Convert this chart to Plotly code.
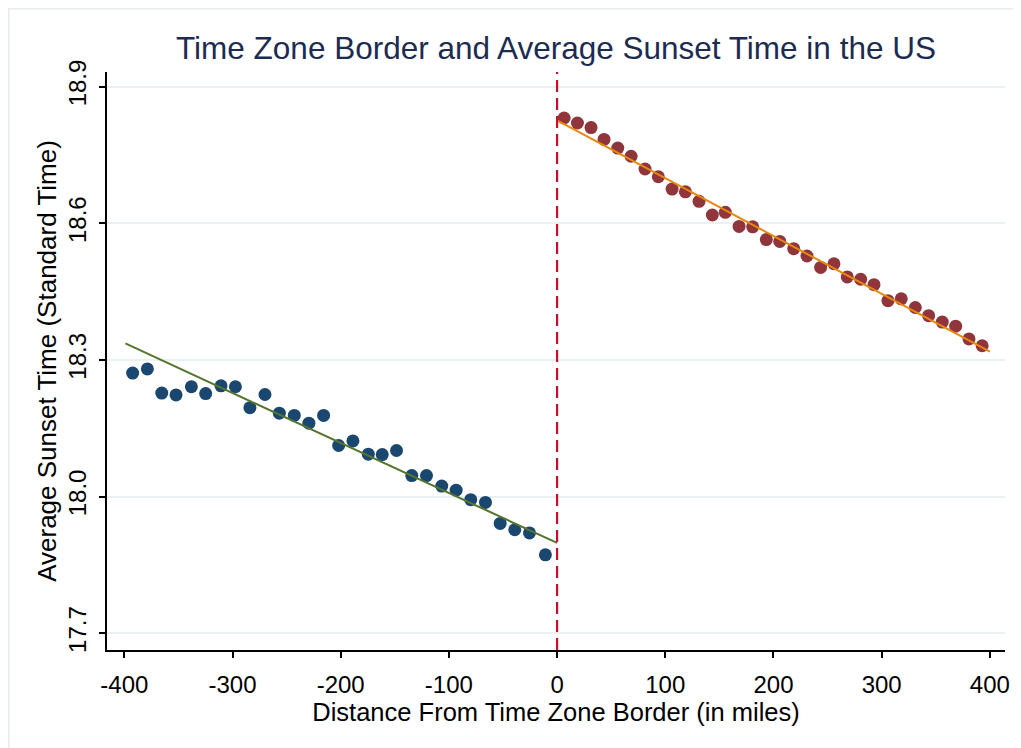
import plotly.graph_objects as go

# Left of border (binned means)
left_x = [-392.3, -378.7, -365.4, -352.2, -338.0, -324.8, -310.6, -297.3, -283.9,
          -270.0, -256.7, -242.9, -229.4, -215.8, -201.9, -188.7, -174.5, -161.6,
          -148.4, -134.3, -120.7, -106.6, -93.3, -79.8, -66.2, -52.6, -39.1, -25.5, -10.8]
left_y = [18.271, 18.280, 18.227, 18.223, 18.241, 18.226, 18.243, 18.241, 18.195,
          18.224, 18.183, 18.178, 18.161, 18.178, 18.112, 18.122, 18.093, 18.092,
          18.101, 18.046, 18.046, 18.023, 18.014, 17.993, 17.987, 17.941, 17.927,
          17.920, 17.872]

# Right of border (binned means)
right_x = [6.5, 18.8, 31.4, 43.4, 56.1, 68.4, 81.3, 93.6, 106.3, 118.6, 131.2,
           143.5, 155.5, 168.2, 180.8, 193.4, 205.8, 218.7, 231.0, 243.6, 255.9,
           268.2, 280.6, 292.9, 305.8, 318.1, 331.1, 343.4, 356.0, 368.4, 380.7, 392.9]
right_y = [18.831, 18.820, 18.810, 18.784, 18.765, 18.747, 18.719, 18.702, 18.675,
           18.669, 18.648, 18.618, 18.624, 18.593, 18.592, 18.564, 18.560, 18.544,
           18.528, 18.503, 18.511, 18.482, 18.477, 18.465, 18.430, 18.434, 18.415,
           18.397, 18.383, 18.374, 18.346, 18.331]

# Linear fits (endpoints)
left_fit_x = [-399, 0]
left_fit_y = [18.336, 17.898]
right_fit_x = [0, 400]
right_fit_y = [18.826, 18.318]

x_ticks = [-400, -300, -200, -100, 0, 100, 200, 300, 400]
x_tick_labels = ["-400", "-300", "-200", "-100", "0", "100", "200", "300", "400"]
y_ticks = [17.7, 18.0, 18.3, 18.6, 18.9]
y_tick_labels = ["17.7", "18.0", "18.3", "18.6", "18.9"]

NAVY = "#1a476f"
MAROON = "#90353b"
GREEN = "#55752f"
ORANGE = "#e8880a"
RED = "#c8102e"
FONT = "Arial, Liberation Sans, sans-serif"

W, H = 1013, 740
ML, MR, MT, MB = 99, 16, 64, 98
PW, PH = W - ML - MR, H - MT - MB

fig = go.Figure()
fig.add_trace(go.Scatter(x=left_x, y=left_y, mode="markers",
                         marker=dict(color=NAVY, size=13, line=dict(width=0))))
fig.add_trace(go.Scatter(x=right_x, y=right_y, mode="markers",
                         marker=dict(color=MAROON, size=13, line=dict(width=0))))
fig.add_trace(go.Scatter(x=left_fit_x, y=left_fit_y, mode="lines",
                         line=dict(color=GREEN, width=2)))
fig.add_trace(go.Scatter(x=right_fit_x, y=right_fit_y, mode="lines",
                         line=dict(color=ORANGE, width=2)))

fig.add_shape(type="line", xref="x", yref="paper", x0=0, x1=0, y0=0, y1=1,
              line=dict(color=RED, width=2.2, dash="12px,6px"))
# faint outer graph-region border
fig.add_shape(type="rect", xref="paper", yref="paper",
              x0=(0.75 - ML) / PW, x1=1.2, y0=-0.5, y1=1 + (MT - 0.75) / PH,
              line=dict(color="#e6eced", width=1.5), layer="below")

fig.update_layout(
    width=W, height=H,
    margin=dict(l=ML, r=MR, t=MT, b=MB, autoexpand=False),
    paper_bgcolor="white", plot_bgcolor="white",
    showlegend=False,
    font=dict(family=FONT, color="black"),
    title=dict(text="Time Zone Border and Average Sunset Time in the US",
               font=dict(size=31.5, color="#1c2b52", family=FONT),
               x=0.5, xref="paper", xanchor="center",
               y=1 - 40 / H, yref="container", yanchor="middle"),
    xaxis=dict(range=[-416, 414], tickvals=x_ticks, ticktext=x_tick_labels,
               showgrid=False, zeroline=False, automargin=False,
               showline=True, linecolor="black", linewidth=2,
               ticks="outside", ticklen=6, tickwidth=1.5, tickcolor="black",
               tickfont=dict(size=24, color="black"), ticklabelstandoff=6,
               title=dict(text="Distance From Time Zone Border (in miles)",
                          font=dict(size=25.5, color="black"), standoff=0)),
    yaxis=dict(range=[17.663, 18.932], tickvals=y_ticks, ticktext=y_tick_labels,
               showgrid=True, gridcolor="#e9f1f3", gridwidth=2, zeroline=False,
               automargin=False,
               showline=True, linecolor="black", linewidth=2,
               ticks="outside", ticklen=6, tickwidth=1.5, tickcolor="black",
               tickangle=-90, tickfont=dict(size=24, color="black"),
               ticklabelstandoff=3,
               title=dict(text="Average Sunset Time (Standard Time)",
                          font=dict(size=26, color="black"), standoff=0)),
)

fig.write_html("out.html")
